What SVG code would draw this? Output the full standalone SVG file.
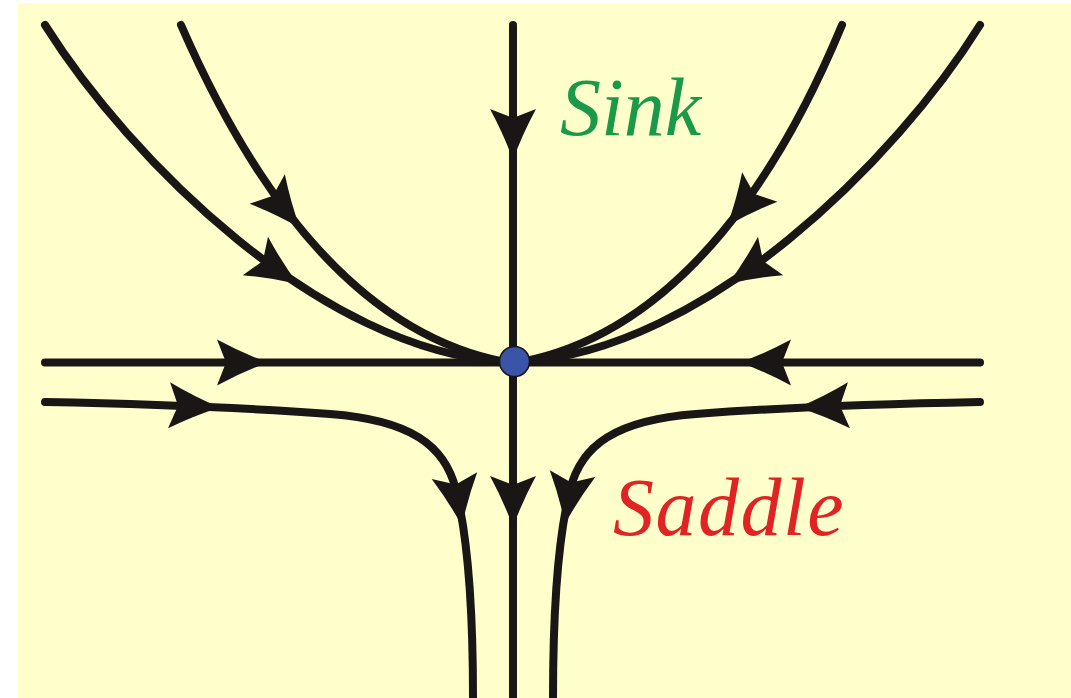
<svg xmlns="http://www.w3.org/2000/svg" width="1071" height="698" viewBox="0 0 1071 698">
<defs>
<style>
.ln{fill:none;stroke:#1a1616;stroke-width:8;stroke-linecap:round}
.ah{fill:#1a1616;stroke:none}
.lbl{font-family:"Liberation Serif",serif;font-style:italic;font-size:82px}
</style>
<path id="head" d="M0,0 Q-25,-9 -51,-23 L-42,0 L-51,23 Q-25,9 0,0 Z"/>
</defs>
<rect x="0" y="0" width="1071" height="698" fill="#ffffff"/>
<rect x="18" y="3" width="1053" height="695" fill="#ffffcc"/>
<g id="connectors">
<path class="ln" d="M513,25 L513,698"/>
<path class="ln" d="M45,362.5 L980,362.5"/>
<path class="ln" d="M45,25 C130,160 320,350 505,362"/>
<path class="ln" d="M181,25 C240,160 340,330 505,362"/>
<path class="ln" d="M980,25 C896,160 706,350 521,362"/>
<path class="ln" d="M842,25 C786,160 686,330 521,362"/>
<path class="ln" d="M45,402 C150,404 250,408 330,414 C410,420 445,445 456,490 C466,530 473,600 473,698"/>
<path class="ln" d="M980,402 C876,404 776,408 696,414 C616,420 581,445 570,490 C560,530 553,600 553,698"/>
<g class="ah">
<use href="#head" transform="translate(268,362.5)"/>
<use href="#head" transform="translate(740,362.5) rotate(180)"/>
<use href="#head" transform="translate(513,160) rotate(90)"/>
<use href="#head" transform="translate(513,527) rotate(90)"/>
<use href="#head" transform="translate(298,284) rotate(33.3)"/>
<use href="#head" transform="translate(300,228) rotate(50)"/>
<use href="#head" transform="translate(728,284) rotate(146.7)"/>
<use href="#head" transform="translate(727,226) rotate(130)"/>
<use href="#head" transform="translate(220,407.5) rotate(2.5)"/>
<use href="#head" transform="translate(798,407.5) rotate(177.5)"/>
<use href="#head" transform="translate(462,526) rotate(81.5)"/>
<use href="#head" transform="translate(565,524) rotate(98.5)"/>
</g>
</g>
<g id="node-center">
<circle cx="514.5" cy="361.5" r="15" fill="#3a55a8" stroke="#1a1616" stroke-width="1.5"/>
</g>
<g id="label-sink">
<text class="lbl" x="560" y="135" fill="#1a9a48">Sink</text>
</g>
<g id="label-saddle">
<text class="lbl" x="613" y="535" fill="#e02424" letter-spacing="1.5">Saddle</text>
</g>
</svg>
